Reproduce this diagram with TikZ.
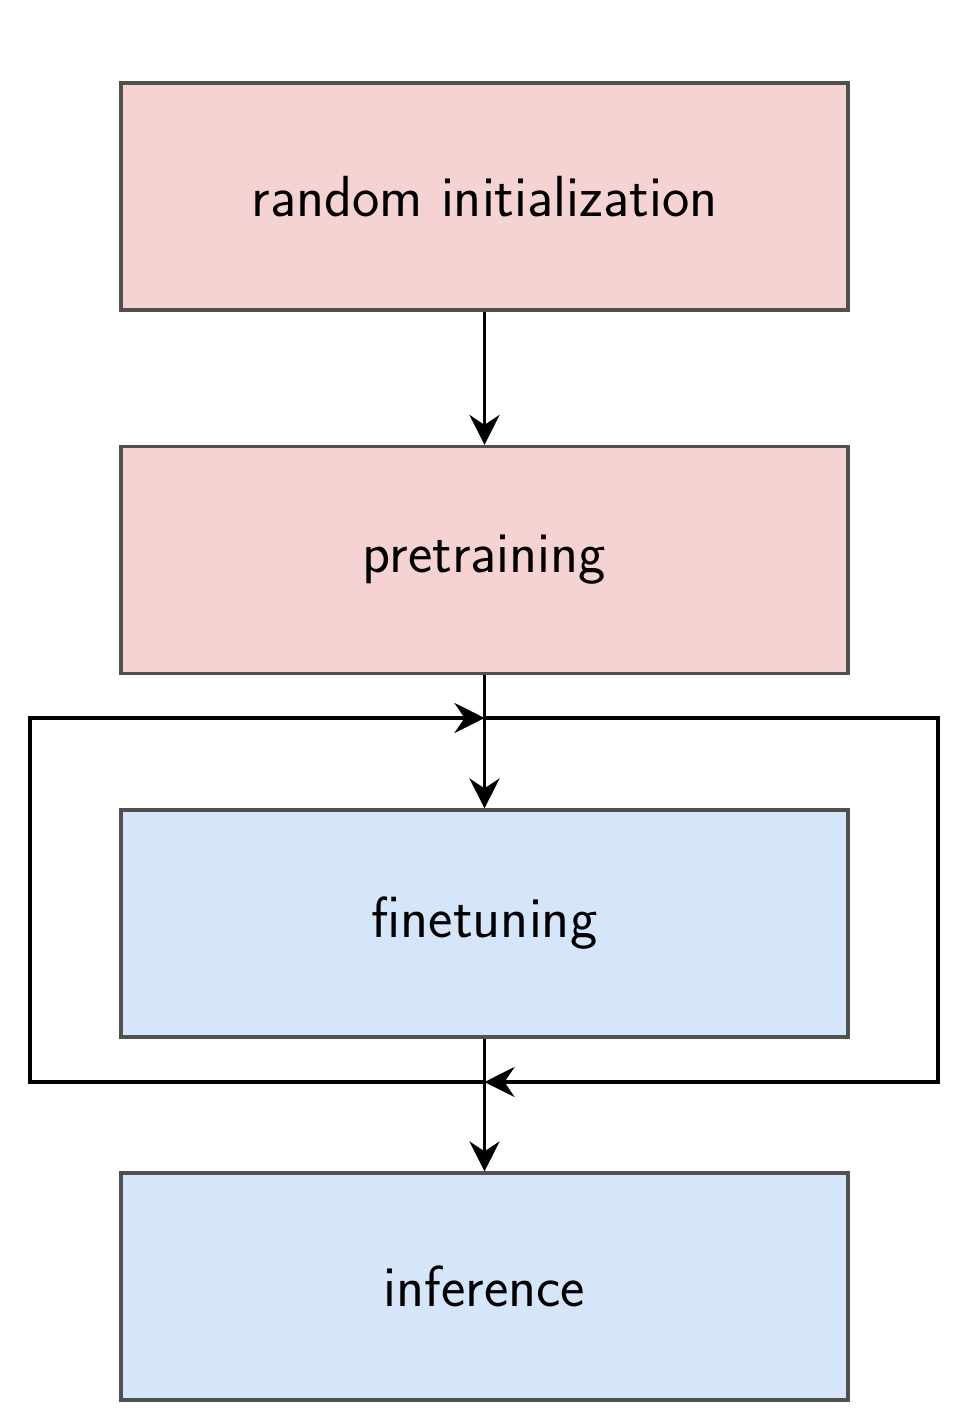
\documentclass[tikz,border=0pt]{standalone}
\usetikzlibrary{arrows.meta}
\definecolor{stagered}{RGB}{246,211,211}
\definecolor{stageblue}{RGB}{214,230,250}
\definecolor{edgegray}{RGB}{80,80,80}
\begin{document}
\begin{tikzpicture}[
    stage/.style={draw=edgegray,line width=0.9pt,minimum width=7.27cm,minimum height=2.27cm,
      inner sep=0pt,font=\sffamily\fontsize{16.5}{19}\selectfont},
    flow/.style={line width=1pt,-{Stealth[length=3mm,width=3mm,inset=1mm]}}]
    \useasboundingbox (0,0) rectangle (9.6,-14.26);
    \node[stage,fill=stagered] (init) at (4.845,-1.965) {random initialization};
    \node[stage,fill=stagered] (pre) at (4.845,-5.60) {pretraining};
    \node[stage,fill=stageblue] (fine) at (4.845,-9.235) {finetuning};
    \node[stage,fill=stageblue] (inf) at (4.845,-12.865) {inference};
    % corners of the loop
    \coordinate (tl) at (0.30,-7.18);
    \coordinate (tr) at (9.38,-7.18);
    \coordinate (bl) at (0.30,-10.82);
    \coordinate (br) at (9.38,-10.82);
    \coordinate (top) at (pre.south |- tl);
    \coordinate (bot) at (fine.south |- bl);
    \draw[flow] (init) -- (pre);
    \draw[flow] (pre) -- (fine);
    \draw[flow] (fine) -- (inf);
    \draw[flow] (bot) -- (bl) -- (tl) -- (top);
    \draw[flow] (top) -- (tr) -- (br) -- (bot);
  \end{tikzpicture}
\end{document}
